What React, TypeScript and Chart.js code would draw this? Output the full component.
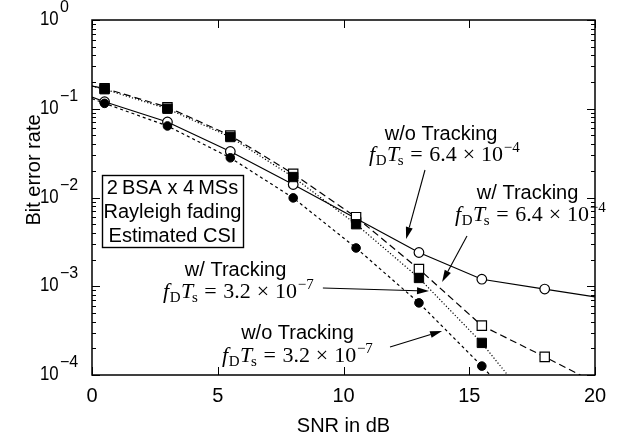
import React, { useEffect, useRef } from 'react';
import { Chart, registerables } from 'chart.js';

Chart.register(...registerables);

// ---- data ----
const SNR_MARKERS = [0.5, 3, 5.5, 8, 10.5, 13, 15.5, 18];

const snrWoTrack64 = [0, 0.5, 3, 5.5, 8, 10.5, 13, 15.5, 18, 20];
const berWoTrack64 = [0.135, 0.12, 0.071, 0.033, 0.014, 0.0058, 0.0024, 0.0012, 0.00093, 0.00076];

const snrWTrack64 = [0, 0.5, 3, 5.5, 8, 10.5, 13, 15.5, 18, 20];
const berWTrack64 = [0.18, 0.17, 0.104, 0.05, 0.0185, 0.006, 0.00156, 0.00036, 0.00016, 0.000082];

const snrWTrack32 = [0, 0.5, 3, 5.5, 8, 10.5, 13, 15.5, 17];
const berWTrack32 = [0.18, 0.166, 0.1, 0.048, 0.017, 0.005, 0.00124, 0.00023, 0.000068];

const snrWoTrack32 = [0, 0.5, 3, 5.5, 8, 10.5, 13, 15.5, 16.5];
const berWoTrack32 = [0.13, 0.115, 0.064, 0.028, 0.0099, 0.0027, 0.00065, 0.000126, 0.000062];

const X_TICKS = [0, 5, 10, 15, 20];
const Y_DECADES = [0, -1, -2, -3, -4];
const X_TITLE = 'SNR in dB';
const Y_TITLE = 'Bit error rate';
const BOX_LINES = ['2\u2009BSA x 4\u2009MSs', 'Rayleigh fading', 'Estimated CSI'];

// annotation labels: [title, mantissa, exponent]
const LABEL_TITLES = ['w/o Tracking', 'w/ Tracking', 'w/ Tracking', 'w/o Tracking'];
const LABEL_MANT = ['6.4', '6.4', '3.2', '3.2'];
const LABEL_EXP = ['4', '4', '7', '7'];

const SANS = '"Liberation Sans", Arial, Helvetica, sans-serif';
const SERIF = '"Liberation Serif", "Times New Roman", serif';

// annotation placement in data space: (snr, log10 ber)
const LAYOUT = [
  { title: [13.88, -1.352], math: [11.01, -1.589], from: [13.24, -1.69], to: [12.49, -2.468] },
  { title: [17.32, -2.017], math: [14.43, -2.265], from: [14.91, -2.434], to: [13.92, -2.952] },
  { title: [5.71, -2.885], math: [2.82, -3.132], from: [9.18, -3.02], to: [13.4, -3.054] },
  { title: [8.17, -3.594], math: [5.17, -3.854], from: [11.85, -3.685], to: [13.92, -3.504] },
];
const BOX = { x0: 0.4, x1: 6.0, l0: -1.746, l1: -2.558 };

function pts(xs: number[], ys: number[]) {
  return xs.map((x, i) => ({ x, y: ys[i] }));
}
function radii(xs: number[], r: number) {
  return xs.map((x) => (SNR_MARKERS.includes(x) ? r : 0));
}

function drawMath(ctx: CanvasRenderingContext2D, x: number, y: number, mant: string, exp: string, size: number) {
  const it = `italic ${size}px ${SERIF}`;
  const rm = `${size}px ${SERIF}`;
  const sm = `${Math.round(size * 0.7)}px ${SERIF}`;
  const parts = [
    { t: 'f', f: it, dy: 0, l: 0, r: size * 0.03 },
    { t: 'D', f: sm, dy: size * 0.17, l: 0, r: size * 0.02 },
    { t: 'T', f: it, dy: 0, l: 0, r: -size * 0.06 },
    { t: 's', f: sm, dy: size * 0.17, l: 0, r: 0 },
    { t: '=', f: rm, dy: 0, l: size * 0.3, r: size * 0.3 },
    { t: mant, f: rm, dy: 0, l: 0, r: 0 },
    { t: '\u00d7', f: rm, dy: 0, l: size * 0.27, r: size * 0.27 },
    { t: '10', f: rm, dy: 0, l: 0, r: 0 },
    { t: '\u2212' + exp, f: sm, dy: -size * 0.4, l: size * 0.03, r: 0 },
  ];
  ctx.textAlign = 'left';
  ctx.textBaseline = 'alphabetic';
  let cx = x;
  for (const p of parts) {
    cx += p.l;
    ctx.font = p.f;
    ctx.fillText(p.t, cx, y + p.dy);
    cx += ctx.measureText(p.t).width + p.r;
  }
}

function drawArrow(ctx: CanvasRenderingContext2D, x1: number, y1: number, x2: number, y2: number) {
  const a = Math.atan2(y2 - y1, x2 - x1);
  const len = 12;
  const hw = 3.5;
  const bx = x2 - len * Math.cos(a);
  const by = y2 - len * Math.sin(a);
  ctx.beginPath();
  ctx.moveTo(x1, y1);
  ctx.lineTo(bx, by);
  ctx.lineWidth = 1.1;
  ctx.strokeStyle = '#000';
  ctx.stroke();
  ctx.beginPath();
  ctx.moveTo(x2, y2);
  ctx.lineTo(bx - hw * Math.sin(a), by + hw * Math.cos(a));
  ctx.lineTo(bx + hw * Math.sin(a), by - hw * Math.cos(a));
  ctx.closePath();
  ctx.fillStyle = '#000';
  ctx.fill();
}

const framePlugin = {
  id: 'frameAndText',
  afterDatasetsDraw(chart: any) {
    const ctx: CanvasRenderingContext2D = chart.ctx;
    const { left, right, top, bottom } = chart.chartArea;
    const xs = chart.scales.x;
    const ys = chart.scales.y;
    const X = (v: number) => xs.getPixelForValue(v);
    const Y = (l: number) => ys.getPixelForValue(Math.pow(10, l));
    ctx.save();
    ctx.strokeStyle = '#000';
    // ticks
    ctx.lineWidth = 1;
    ctx.beginPath();
    for (const v of X_TICKS) {
      const px = Math.round(X(v)) + 0.5;
      ctx.moveTo(px, bottom);
      ctx.lineTo(px, bottom - 8);
      ctx.moveTo(px, top);
      ctx.lineTo(px, top + 8);
    }
    for (const d of Y_DECADES) {
      for (let m = 1; m <= 9; m++) {
        const val = m * Math.pow(10, d);
        if (val > 1 + 1e-9) continue;
        const py = Math.round(ys.getPixelForValue(val)) + 0.5;
        const len = m === 1 ? 8 : 4;
        ctx.moveTo(left, py);
        ctx.lineTo(left + len, py);
        ctx.moveTo(right, py);
        ctx.lineTo(right - len, py);
      }
    }
    ctx.stroke();
    // frame
    ctx.lineWidth = 1.5;
    ctx.strokeRect(left, top, right - left, bottom - top);

    // y tick labels 10^k
    ctx.fillStyle = '#000';
    for (const d of Y_DECADES) {
      const py = Y(d);
      ctx.save();
      ctx.translate(left - 52, py + 5);
      ctx.scale(0.84, 1);
      ctx.font = `20px ${SANS}`;
      ctx.textAlign = 'left';
      ctx.textBaseline = 'alphabetic';
      ctx.fillText('10', 0, 0);
      ctx.restore();
      ctx.font = `16px ${SANS}`;
      ctx.textAlign = 'left';
      ctx.textBaseline = 'alphabetic';
      ctx.fillText(d === 0 ? '0' : '\u2212' + String(-d), left - 32, py - 8);
    }
    // y title
    ctx.save();
    ctx.translate(34, 170);
    ctx.rotate(-Math.PI / 2);
    ctx.font = `20px ${SANS}`;
    ctx.textAlign = 'center';
    ctx.textBaseline = 'middle';
    ctx.fillText(Y_TITLE, 0, 0);
    ctx.restore();

    // info box
    const bx0 = X(BOX.x0), bx1 = X(BOX.x1), by0 = Y(BOX.l0), by1 = Y(BOX.l1);
    ctx.fillStyle = '#fff';
    ctx.fillRect(bx0, by0, bx1 - bx0, by1 - by0);
    ctx.lineWidth = 1.4;
    ctx.strokeRect(Math.round(bx0) + 0.5, Math.round(by0) + 0.5, Math.round(bx1 - bx0), Math.round(by1 - by0));
    ctx.fillStyle = '#000';
    ctx.font = `20px ${SANS}`;
    ctx.textAlign = 'center';
    ctx.textBaseline = 'alphabetic';
    BOX_LINES.forEach((t, i) => {
      ctx.fillText(t, (bx0 + bx1) / 2, by0 + 19 + i * 24);
    });

    // annotations
    LAYOUT.forEach((L, i) => {
      ctx.fillStyle = '#000';
      ctx.font = `20px ${SANS}`;
      ctx.textAlign = 'center';
      ctx.textBaseline = 'alphabetic';
      ctx.fillText(LABEL_TITLES[i], X(L.title[0]), Y(L.title[1]));
      drawMath(ctx, X(L.math[0]), Y(L.math[1]), LABEL_MANT[i], LABEL_EXP[i], 22);
      drawArrow(ctx, X(L.from[0]), Y(L.from[1]), X(L.to[0]), Y(L.to[1]));
    });
    ctx.restore();
  },
};

export default function App() {
  const ref = useRef<HTMLCanvasElement>(null);
  useEffect(() => {
    const lw = 1.2;
    const chart = new Chart(ref.current as HTMLCanvasElement, {
      type: 'line',
      data: {
        datasets: [
          {
            label: 'w/ Tracking, fDTs = 3.2e-7',
            data: pts(snrWTrack32, berWTrack32),
            order: 0,
            borderColor: '#000',
            borderWidth: lw,
            borderDash: [1.2, 2],
            pointStyle: 'rect',
            pointRadius: radii(snrWTrack32, 6.6),
            pointBackgroundColor: '#000',
            pointBorderColor: '#000',
            pointBorderWidth: 1,
          },
          {
            label: 'w/ Tracking, fDTs = 6.4e-4',
            data: pts(snrWTrack64, berWTrack64),
            order: 1,
            borderColor: '#000',
            borderWidth: lw,
            borderDash: [7, 4],
            pointStyle: 'rect',
            pointRadius: radii(snrWTrack64, 6.6),
            pointBackgroundColor: '#fff',
            pointBorderColor: '#000',
            pointBorderWidth: 1.2,
          },
          {
            label: 'w/o Tracking, fDTs = 3.2e-7',
            data: pts(snrWoTrack32, berWoTrack32),
            order: 2,
            borderColor: '#000',
            borderWidth: lw,
            borderDash: [3, 3],
            pointStyle: 'circle',
            pointRadius: radii(snrWoTrack32, 4.3),
            pointBackgroundColor: '#000',
            pointBorderColor: '#000',
            pointBorderWidth: 1,
          },
          {
            label: 'w/o Tracking, fDTs = 6.4e-4',
            data: pts(snrWoTrack64, berWoTrack64),
            order: 3,
            borderColor: '#000',
            borderWidth: lw,
            pointStyle: 'circle',
            pointRadius: radii(snrWoTrack64, 4.8),
            pointBackgroundColor: '#fff',
            pointBorderColor: '#000',
            pointBorderWidth: 1.2,
          },
        ],
      },
      options: {
        animation: false,
        responsive: false,
        devicePixelRatio: 1,
        layout: { padding: { top: 20, right: 24, left: 0, bottom: 0 } },
        elements: { line: { tension: 0, fill: false }, point: { hoverRadius: 0 } },
        plugins: { legend: { display: false }, tooltip: { enabled: false } },
        scales: {
          x: {
            type: 'linear',
            min: 0,
            max: 20,
            afterBuildTicks: (s: any) => {
              s.ticks = X_TICKS.map((v) => ({ value: v }));
            },
            afterFit: (s: any) => {
              s.height = 61;
            },
            ticks: {
              color: '#000',
              font: { family: SANS, size: 20 },
              padding: 9,
              maxRotation: 0,
              autoSkip: false,
            },
            grid: { display: false, drawTicks: false },
            border: { display: false },
            title: {
              display: true,
              text: X_TITLE,
              color: '#000',
              font: { family: SANS, size: 20, lineHeight: 1.0 },
              padding: { top: 0, bottom: 0 },
            },
          },
          y: {
            type: 'logarithmic',
            min: 1e-4,
            max: 1,
            afterFit: (s: any) => {
              s.width = 92;
            },
            ticks: { display: false },
            grid: { display: false, drawTicks: false },
            border: { display: false },
          },
        },
      } as any,
      plugins: [framePlugin],
    });
    return () => chart.destroy();
  }, []);
  return (
    <div style={{ position: 'absolute', left: 0, top: 0, width: 619, height: 436, background: '#fff' }}>
      <canvas ref={ref} width={619} height={436} style={{ display: 'block' }} />
    </div>
  );
}
